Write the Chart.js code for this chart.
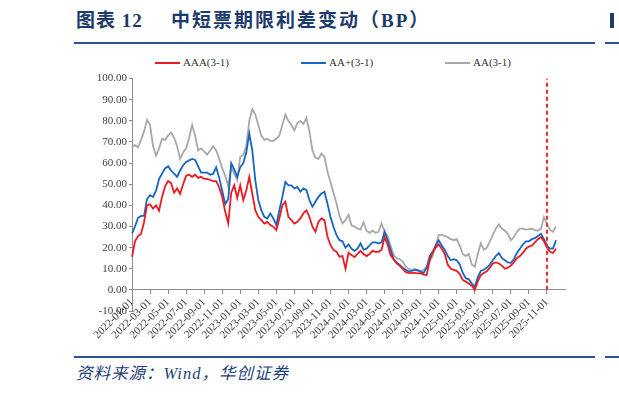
<!DOCTYPE html>
<html>
<head>
<meta charset="utf-8">
<script src="https://cdn.jsdelivr.net/npm/chart.js@4.4.1/dist/chart.umd.min.js"></script>
<style>
  body { margin: 0; width: 619px; height: 395px; background: #fff; position: relative; overflow: hidden; }
  .title { position: absolute; top: 11px; line-height: 19px; font-size: 19px; font-weight: bold;
           font-family: "Liberation Serif", "Noto Sans CJK SC", serif; color: #1d3a6c; white-space: nowrap; }
  .rule { position: absolute; height: 2px; background: #2d5492; }
  #box { position: absolute; left: 90px; top: 70px; width: 490px; height: 281px; }
  .lg-line { position: absolute; height: 2px; top: 62px; }
  .lg-text { position: absolute; top: 56px; line-height: 14px; font: 11px "Liberation Serif", serif; color: #333; white-space: nowrap; }
  .source { position: absolute; left: 76px; top: 365px; line-height: 18px; font-size: 16.5px; font-style: italic;
            font-family: "Liberation Serif", "Noto Sans CJK SC", serif; color: #1f3f7a; letter-spacing: 1px; white-space: nowrap; }
</style>
</head>
<body>
<div class="title" style="left:76px; letter-spacing:1px;">图表 12</div>
<div class="title" style="left:171px; letter-spacing:2px;">中短票期限利差变动（BP）</div>
<div class="title" style="left:610px; width:4px; height:15px; top:13px; background:#1d3a6c;"></div>
<div class="rule" style="left:74px; width:521px; top:42px;"></div>
<div class="rule" style="left:605px; width:14px; top:42px;"></div>
<div id="legend"></div>
<div id="box"><canvas id="myChart"></canvas></div>
<div class="rule" style="left:74px; width:521px; top:356px;"></div>
<div class="rule" style="left:605px; width:14px; top:356px;"></div>
<div class="source">资料来源：Wind，华创证券</div>
<script>
// 1st, 11th and 21st of every month, 2022-01-01 .. 2025-12-01
const dates = [];
for (let y = 2022; y <= 2025; y++) {
    for (let m = 1; m <= 12; m++) {
        const mm = String(m).padStart(2, '0');
        ['01', '11', '21'].forEach(d => dates.push(y + '-' + mm + '-' + d));
    }
}
dates.push('2025-12-01');

const tickLabels = [
    '2022-01-01', '2022-03-01', '2022-05-01', '2022-07-01', '2022-09-01', '2022-11-01',
    '2023-01-01', '2023-03-01', '2023-05-01', '2023-07-01', '2023-09-01', '2023-11-01',
    '2024-01-01', '2024-03-01', '2024-05-01', '2024-07-01', '2024-09-01', '2024-11-01',
    '2025-01-01', '2025-03-01', '2025-05-01', '2025-07-01', '2025-09-01', '2025-11-01'
];

const aaa = [
    15.7, 23, 25.5, 26.5, 32, 40, 40.5, 38.5, 40, 37.5, 44, 49, 51.5, 50.5, 46, 48, 45.5, 50,
    54, 54.5, 53.5, 54.5, 53, 53.5, 52.5, 52.5, 52, 51.5, 51.5, 48.5, 44, 37, 31.5, 46, 49.5, 43.5,
    49.5, 42.5, 47, 53.5, 45.5, 37.7, 34.6, 33, 31.4, 32.2, 30.7, 29.9, 28.3, 33.8, 40.1, 41.7, 34.6, 33,
    31.4, 32.2, 33.8, 36.2, 37.7, 34.6, 29.9, 27.5, 32.2, 33.8, 33, 25.2, 21.2, 18.9, 18.1, 15.7, 16, 10,
    17.5, 16.5, 15.5, 17, 18.5, 17, 16, 17, 18.5, 18, 18, 19, 25, 21.5, 16.5, 14.5, 12.5, 11.5,
    10, 8.5, 7.9, 8, 8, 7.8, 7.9, 7.2, 7, 14, 18, 20, 21.5, 19.5, 17, 12, 10, 9.5,
    9, 7.5, 4.7, 3.9, 3, 2, 0, 4, 7, 8, 8.8, 10.5, 12.5, 13, 12.5, 11.5, 10, 10.5,
    11.5, 13, 15, 16, 17.5, 19.5, 20.5, 21, 22.5, 24, 25, 23, 20, 18, 17.5, 19.5
];
const aaPlus = [
    26.7, 30, 34, 35, 35, 43, 44.8, 44, 47, 52.5, 55, 57.5, 58.5, 56.5, 55, 53.5, 56.5, 59,
    60.5, 61.3, 62, 61.5, 58.5, 55.5, 55.5, 55.5, 54.5, 55, 58, 53, 47, 40.5, 43, 60, 57, 53.5,
    58, 60, 65, 74, 66, 52, 42.5, 37.7, 34.6, 33.8, 36.2, 33.8, 30.7, 37.7, 44, 51.1, 49.5, 49.5,
    48, 48.7, 46.4, 48, 47.2, 42.5, 39.3, 41.7, 44, 45.6, 46.4, 40.9, 34.6, 29.9, 26, 23.5, 23, 20,
    21.5, 19.5, 18.5, 19.5, 22, 19, 19.5, 21, 22.5, 22.5, 22, 22.5, 27.5, 23.5, 19, 14.5, 13, 11.8,
    10.5, 9.5, 8.8, 9, 9.3, 9.4, 8.6, 8, 10.5, 16, 18, 21, 23.5, 21, 19, 16, 14, 14.5,
    14, 12, 8, 5.5, 5, 3, 1.5, 6, 9, 9.5, 10.5, 12, 14, 16, 17.5, 15, 14, 13,
    12.8, 14.5, 17.5, 19.5, 21.5, 23, 23, 24, 24.5, 25.5, 26.5, 24, 21, 19.5, 19.5, 23.5
];
const aa = [
    67.5, 68.5, 67.5, 71, 75, 80.5, 78, 68, 63.5, 67, 71.5, 71, 73, 74.5, 72, 68, 62, 65,
    67, 72, 78, 73, 66, 67, 65.5, 64, 66, 68, 66, 62, 57.5, 54, 49, 58, 55, 52,
    63, 64, 68, 80, 85.5, 83, 78, 73, 71, 71.5, 70.5, 70.5, 71.5, 73, 78, 83, 80, 78,
    75.5, 79, 80, 78.5, 81.5, 75, 66, 62.5, 62, 64.5, 63, 56, 51, 46, 41, 35, 31.5, 33,
    35.5, 30.5, 30, 29, 28.5, 32, 28, 27, 28, 27, 27.5, 31.5, 27.5, 25.5, 21, 16.5, 15, 14.5,
    13.5, 11, 10, 9.5, 10, 9, 8.8, 9.5, 11, 13.5, 16, 21, 26, 26, 25.5, 25, 24, 23.5,
    24, 21, 17, 16, 17, 12, 11, 17, 22, 19, 20, 23, 26, 29, 31, 29, 28, 26.5,
    23.5, 25, 27.5, 29, 29, 28.5, 28.8, 29, 28.3, 28, 29, 34.5, 31, 28.5, 27.5, 30
];

const markerDate = '2025-11-01';
const markerSpan = [0, 100];

const series = [
    { label: 'AAA(3-1)', data: aaa, color: '#ea1a22' },
    { label: 'AA+(3-1)', data: aaPlus, color: '#1665c1' },
    { label: 'AA(3-1)', data: aa, color: '#a8a8a8' }
];

// legend laid out like the report's
const legendLeft = [155, 301, 445];
const legend = document.getElementById('legend');
series.forEach((s, i) => {
    const line = document.createElement('div');
    line.className = 'lg-line';
    line.style.left = legendLeft[i] + 'px';
    line.style.width = '25px';
    line.style.background = s.color;
    legend.appendChild(line);
    const txt = document.createElement('div');
    txt.className = 'lg-text';
    txt.style.left = (legendLeft[i] + 28) + 'px';
    txt.textContent = s.label;
    legend.appendChild(txt);
});

const axisFont = { family: 'Liberation Serif', size: 11 };

const ctx = document.getElementById('myChart').getContext('2d');
new Chart(ctx, {
    type: 'line',
    data: {
        labels: dates,
        datasets: series.map(s => ({
            label: s.label,
            data: s.data,
            borderColor: s.color,
            borderWidth: 1.8,
            pointRadius: 0,
            tension: 0
        })).concat([{
            label: 'marker',
            data: markerSpan.map(v => ({ x: markerDate, y: v })),
            borderColor: '#f0262c',
            borderWidth: 2,
            borderDash: [4, 3],
            pointRadius: 0,
            order: -1
        }])
    },
    options: {
        responsive: true,
        maintainAspectRatio: false,
        animation: false,
        // x axis sits on y = 0, so the labels hang into this bottom padding
        layout: { padding: { top: 8, right: 15, bottom: 40, left: 0 } },
        plugins: {
            legend: { display: false },
            tooltip: { enabled: false }
        },
        scales: {
            x: {
                type: 'category',
                position: { y: 0 },
                border: { color: '#8c8c8c', width: 1 },
                grid: { drawOnChartArea: false, drawTicks: true, tickLength: 4, color: '#8c8c8c' },
                ticks: {
                    autoSkip: false,
                    maxRotation: 45,
                    minRotation: 45,
                    padding: 2,
                    color: '#404040',
                    font: axisFont,
                    callback: function (value) {
                        const lab = this.getLabelForValue(value);
                        return tickLabels.includes(lab) ? lab : null;
                    }
                }
            },
            y: {
                min: -10,
                max: 100,
                afterFit: scale => { scale.width = 42; },
                border: { color: '#8c8c8c', width: 1 },
                grid: { drawOnChartArea: false, drawTicks: true, tickLength: 3, color: '#8c8c8c' },
                ticks: {
                    stepSize: 10,
                    padding: 2,
                    color: '#404040',
                    font: axisFont,
                    callback: v => v.toFixed(2)
                }
            }
        }
    }
});
</script>
</body>
</html>
